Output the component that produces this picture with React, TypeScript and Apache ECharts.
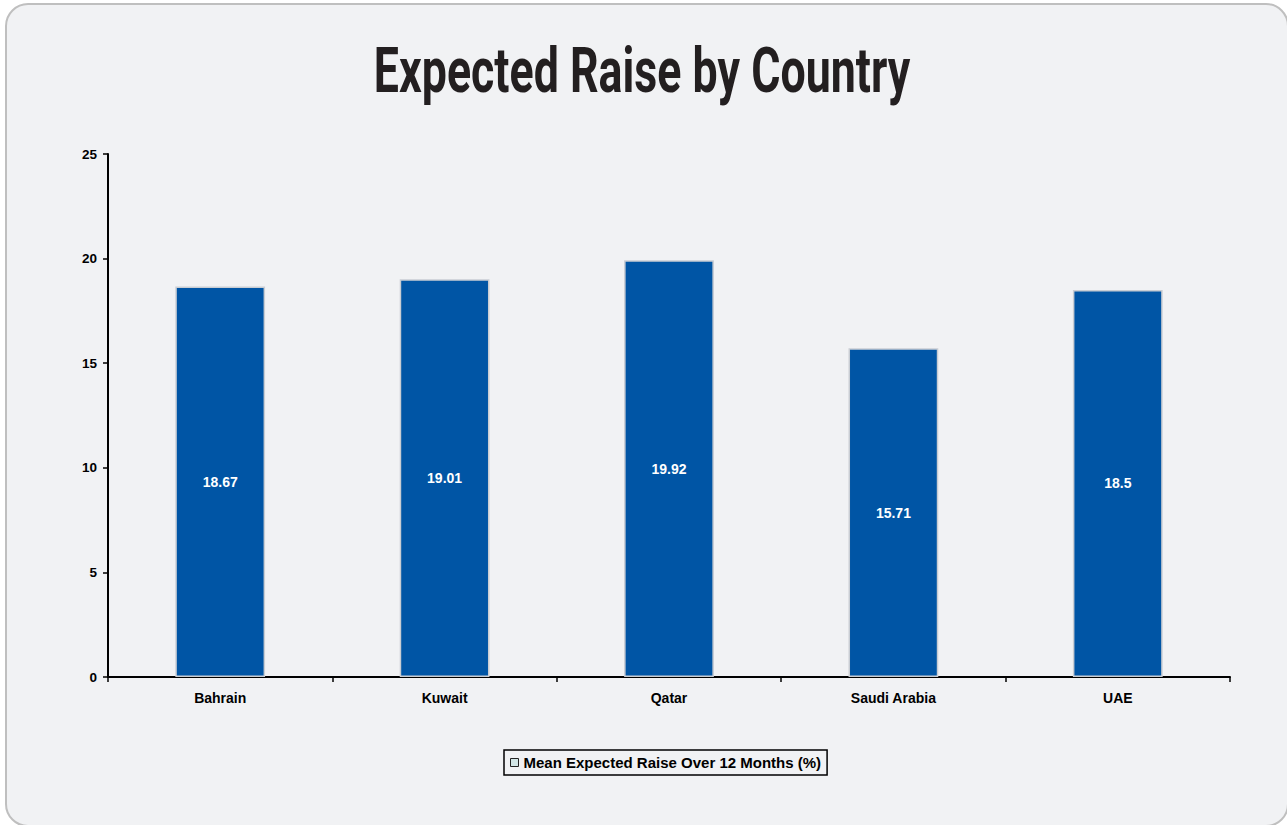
import React, { useEffect, useRef } from "react";
import * as echarts from "echarts";

const titleText = "Expected Raise by Country";
const categories = ["Bahrain", "Kuwait", "Qatar", "Saudi Arabia", "UAE"];
const seriesName = "Mean Expected Raise Over 12 Months (%)";
const values = [18.67, 19.01, 19.92, 15.71, 18.5];

export default function App() {
  const ref = useRef<HTMLDivElement>(null);
  useEffect(() => {
    if (!ref.current) return;
    const chart = echarts.init(ref.current, null, { renderer: "svg" });
    const font = "'Liberation Sans', Arial, sans-serif";
    chart.setOption({
      animation: false,
      backgroundColor: "#ffffff",
      graphic: [
        {
          type: "rect",
          z: -10,
          shape: { x: 6, y: 4, width: 1282, height: 822, r: 22 },
          style: { fill: "#f1f2f4", stroke: "#bfbfbf", lineWidth: 2 },
        },
        {
          type: "text",
          x: 642,
          y: 70,
          scaleX: 0.71,
          style: {
            text: titleText,
            fill: "#231f20",
            font: "bold 63px Roboto, sans-serif",
            textAlign: "center",
            textVerticalAlign: "middle",
          },
        },
      ],
      grid: { left: 108, right: 57, top: 154, bottom: 148, containLabel: false },
      legend: {
        left: 504,
        top: 750,
        orient: "horizontal",
        borderColor: "#000",
        borderWidth: 1.5,
        padding: [5, 6, 5, 6],
        itemWidth: 8,
        itemHeight: 8,
        itemGap: 6,
        textStyle: { fontFamily: font, fontWeight: "bold", fontSize: 15, color: "#000" },
        data: [
          {
            name: seriesName,
            icon: "rect",
            itemStyle: { color: "#d2e6e6", borderColor: "#222", borderWidth: 1 },
          },
        ],
      },
      xAxis: {
        type: "category",
        data: categories,
        axisLine: { show: true, lineStyle: { color: "#000", width: 2 } },
        axisTick: { show: true, length: 5, lineStyle: { color: "#000", width: 1.5 } },
        axisLabel: { fontFamily: font, fontWeight: "bold", fontSize: 14, color: "#000", margin: 14 },
      },
      yAxis: {
        type: "value",
        min: 0,
        max: 25,
        interval: 5,
        axisLine: { show: true, lineStyle: { color: "#000", width: 2 } },
        axisTick: { show: true, length: 5, lineStyle: { color: "#000", width: 1.5 } },
        splitLine: { show: false },
        axisLabel: { fontFamily: font, fontWeight: "bold", fontSize: 13.5, color: "#000", margin: 11 },
      },
      series: [
        {
          name: seriesName,
          type: "bar",
          data: values,
          barWidth: "40%",
          itemStyle: { color: "#0055a5", borderColor: "#c9cdd3", borderWidth: 1.5 },
          label: {
            show: true,
            position: "inside",
            color: "#fff",
            fontFamily: font,
            fontWeight: "bold",
            fontSize: 14,
          },
        },
      ],
    });
    return () => chart.dispose();
  }, []);
  return (
    <div
      ref={ref}
      style={{ position: "fixed", left: 0, top: 0, width: 1287, height: 825 }}
    />
  );
}
